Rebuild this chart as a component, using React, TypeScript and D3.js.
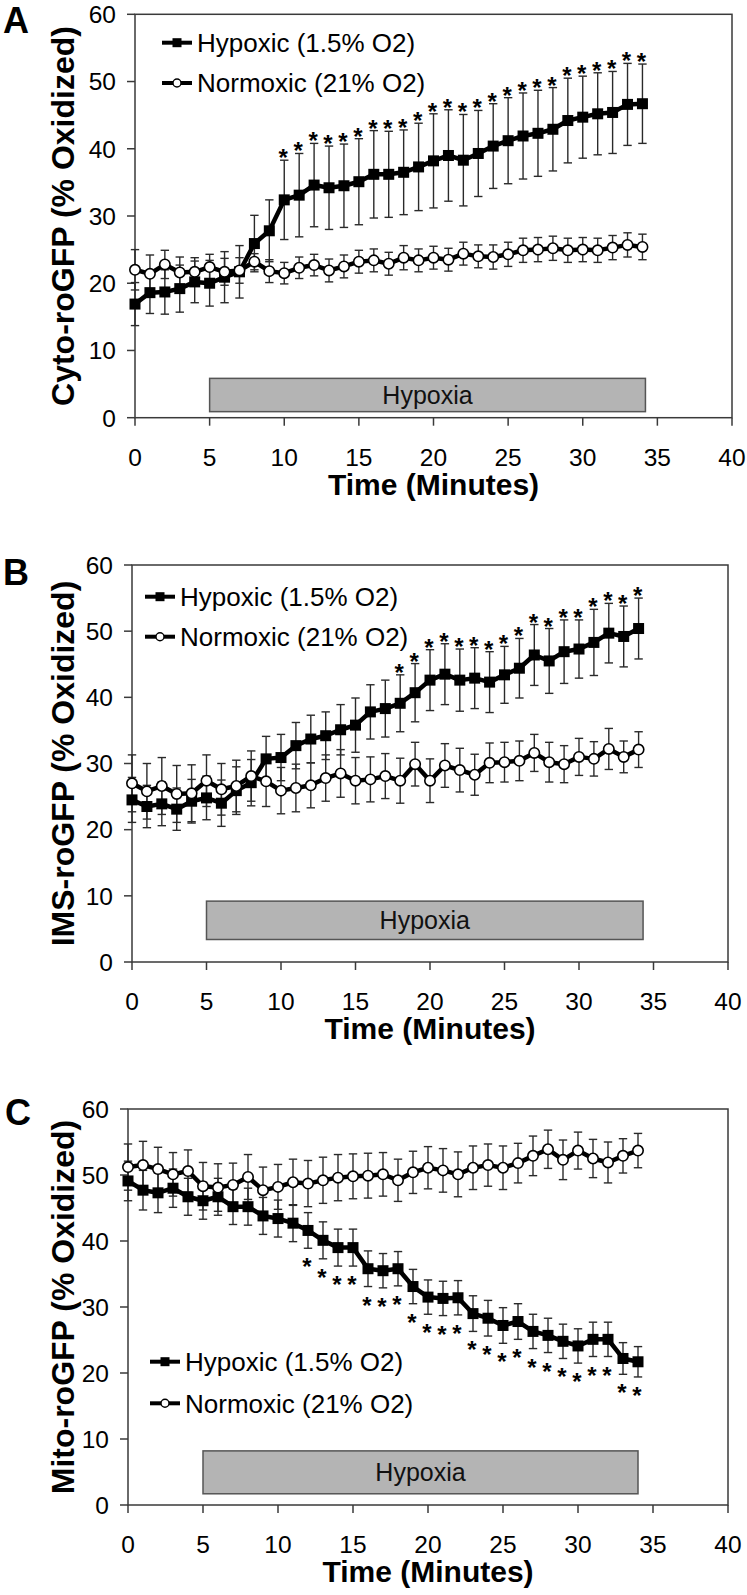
import React from 'react';
import * as d3 from 'd3';

const minutes = [0,1,2,3,4,5,6,7,8,9,10,11,12,13,14,15,16,17,18,19,20,21,22,23,24,25,26,27,28,29,30,31,32,33,34];
const xTicks = [0,5,10,15,20,25,30,35,40];
const yTicks = [0,10,20,30,40,50,60];

// Panel A: Cyto-roGFP
const cytoHypoxicMean = [16.9,18.6,18.7,19.2,20.2,20.0,20.9,21.7,25.9,27.8,32.4,33.1,34.6,34.2,34.5,35.1,36.2,36.2,36.5,37.3,38.2,39.0,38.3,39.3,40.4,41.2,41.9,42.3,42.9,44.2,44.7,45.2,45.4,46.6,46.7];
const cytoHypoxicSE = [3.2,3.1,3.3,3.5,3.1,3.4,3.8,3.9,4.2,4.6,5.9,6.2,6.2,6.2,6.2,6.4,6.5,6.4,6.3,6.5,7.0,6.8,6.8,6.4,6.3,6.4,6.4,6.4,6.2,6.3,6.1,6.1,6.1,6.1,5.9];
const cytoNormoxicMean = [22.0,21.4,22.8,21.6,21.7,22.4,21.7,21.9,23.2,21.8,21.5,22.3,22.7,21.9,22.5,23.2,23.4,22.9,23.8,23.4,23.8,23.5,24.4,24.0,23.9,24.3,24.9,25.0,25.2,24.9,25.0,24.9,25.3,25.7,25.4];
const cytoNormoxicSE = [3.0,2.8,2.1,2.3,2.1,1.9,2.0,1.9,1.2,1.7,1.6,1.6,1.6,1.7,1.7,1.7,1.7,1.7,1.8,1.7,1.7,1.7,1.7,1.7,1.8,1.8,1.8,1.8,1.8,1.8,1.8,1.8,1.8,1.8,1.9];
const cytoStars = [10,11,12,13,14,15,16,17,18,19,20,21,22,23,24,25,26,27,28,29,30,31,32,33,34];

// Panel B: IMS-roGFP
const imsHypoxicMean = [24.5,23.5,23.9,23.1,24.3,24.8,24.0,25.9,27.1,30.7,30.9,32.7,33.7,34.2,35.1,35.8,37.8,38.3,39.1,40.7,42.6,43.5,42.6,42.9,42.3,43.4,44.4,46.4,45.5,46.9,47.3,48.3,49.7,49.2,50.4];
const imsHypoxicSE = [3.4,3.2,3.3,3.2,3.3,3.3,3.5,3.6,3.5,3.4,3.5,3.5,3.6,3.6,3.8,4.1,4.1,4.3,4.3,4.4,4.6,4.6,4.7,4.6,4.6,4.3,4.5,4.6,4.9,4.8,4.4,5.0,4.5,4.6,4.6];
const imsNormoxicMean = [27.0,25.8,26.6,25.4,25.5,27.4,26.1,26.6,28.1,27.3,25.9,26.3,26.7,27.8,28.5,27.4,27.6,28.1,27.4,29.9,27.4,29.7,29.0,28.3,30.1,30.2,30.4,31.6,30.2,29.9,31.0,30.7,32.2,31.0,32.1];
const imsNormoxicSE = [4.3,4.2,4.3,4.3,4.3,3.9,3.9,3.9,3.8,3.8,3.5,3.6,3.4,3.5,3.6,3.5,3.4,3.4,3.4,3.3,3.3,3.3,3.3,3.1,3.0,3.0,3.0,2.8,3.0,2.8,2.8,2.6,3.1,2.4,2.7];
const imsStars = [18,19,20,21,22,23,24,25,26,27,28,29,30,31,32,33,34];

// Panel C: Mito-roGFP
const mitoHypoxicMean = [49.1,47.7,47.3,48.0,46.7,46.1,46.7,45.2,45.2,43.8,43.4,42.7,41.6,40.1,39.0,39.0,35.8,35.5,35.8,33.1,31.5,31.3,31.4,29.0,28.3,27.2,27.8,26.3,25.7,24.8,24.1,25.1,25.1,22.2,21.7];
const mitoHypoxicSE = [3.0,3.0,3.0,2.9,2.8,2.8,2.8,2.7,2.8,2.8,2.8,2.8,2.7,2.8,2.8,2.8,2.7,2.6,2.6,2.6,2.6,2.6,2.6,2.7,2.7,2.7,2.7,2.6,2.6,2.6,2.6,2.6,2.6,2.4,2.3];
const mitoNormoxicMean = [51.2,51.5,50.9,50.1,50.6,48.3,48.1,48.5,49.7,47.7,48.2,48.9,48.7,49.2,49.6,49.8,49.9,50.1,49.2,50.4,51.1,50.7,50.1,51.1,51.5,51.1,51.8,52.9,53.9,52.3,53.7,52.5,51.9,52.9,53.7];
const mitoNormoxicSE = [3.5,3.6,3.3,3.3,3.2,3.6,3.6,3.3,3.4,3.5,3.4,3.5,3.5,3.5,3.5,3.4,3.4,3.3,3.2,3.2,3.2,3.3,3.4,3.3,3.2,3.3,3.0,3.0,2.9,3.0,2.8,2.9,3.1,2.6,2.6];
const mitoStars = [12,13,14,15,16,17,18,19,20,21,22,23,24,25,26,27,28,29,30,31,32,33,34];

const seriesNames = ['Hypoxic (1.5% O2)', 'Normoxic (21% O2)'];
const panelLetters = ['A', 'B', 'C'];
const yTitles = ['Cyto-roGFP (% Oxidized)', 'IMS-roGFP (% Oxidized)', 'Mito-roGFP (% Oxidized)'];
const xTitle = 'Time (Minutes)';
const hypoxiaLabel = 'Hypoxia';
// hypoxia bar extents [xStart, xEnd, yLow, yHigh] in data units
const hypoxiaBars = [[5, 34.2, 0.9, 5.85], [5, 34.3, 3.4, 9.2], [5, 34.0, 1.7, 8.2]];

const FONT = "Arial, 'Liberation Sans', Helvetica, sans-serif";
const AXIS = '#3a3a3a';

type PanelCfg = {
  letter: string; yTitle: string;
  hypMean: number[]; hypSE: number[]; norMean: number[]; norSE: number[];
  stars: number[]; starsBelow: boolean; bar: number[];
  left: number; right: number; top: number; bottom: number;
  letterX: number; letterY: number;
  legX1: number; legRow1: number; legRow2: number;
};

function Panel({ c }: { c: PanelCfg }) {
  const x = d3.scaleLinear().domain([0, 40]).range([c.left, c.right]);
  const y = d3.scaleLinear().domain([0, 60]).range([c.bottom, c.top]);
  const line = d3.line<number>().x((_, i) => x(minutes[i])).y(d => y(d));
  const capW = 4.2;

  const errBars = (mean: number[], se: number[], key: string) =>
    mean.map((m, i) => {
      const cx = x(minutes[i]);
      const y1 = y(m + se[i]);
      const y2 = y(m - se[i]);
      return (
        <g key={key + i} stroke="#2a2a2a" strokeWidth={1.4}>
          <line x1={cx} x2={cx} y1={y1} y2={y2} />
          <line x1={cx - capW} x2={cx + capW} y1={y1} y2={y1} />
          <line x1={cx - capW} x2={cx + capW} y1={y2} y2={y2} />
        </g>
      );
    });

  const [bx0, bx1, by0, by1] = c.bar;
  const legX2 = c.legX1 + 30;
  const legMid = c.legX1 + 15;

  return (
    <g fontFamily={FONT}>
      <text x={c.letterX} y={c.letterY} fontSize={36} fontWeight="bold">{c.letter}</text>
      <rect x={c.left} y={c.top} width={c.right - c.left} height={c.bottom - c.top} fill="none" stroke={AXIS} strokeWidth={1.5} />
      {yTicks.map(t => (
        <g key={'yt' + t}>
          <line x1={c.left - 8} x2={c.left} y1={y(t)} y2={y(t)} stroke={AXIS} strokeWidth={1.5} />
          <text x={c.left - 19} y={y(t)} dy="0.36em" textAnchor="end" fontSize={24.5}>{t}</text>
        </g>
      ))}
      {xTicks.map(t => (
        <g key={'xt' + t}>
          <line x1={x(t)} x2={x(t)} y1={c.bottom} y2={c.bottom + 8} stroke={AXIS} strokeWidth={1.5} />
          <text x={x(t)} y={c.bottom + 48} textAnchor="middle" fontSize={24.5}>{t}</text>
        </g>
      ))}
      <text x={(c.left + c.right) / 2} y={c.bottom + 77} textAnchor="middle" fontSize={30} fontWeight="bold">{xTitle}</text>
      <text transform={`translate(74,${(c.top + c.bottom) / 2}) rotate(-90)`} textAnchor="middle" fontSize={32} fontWeight="bold">{c.yTitle}</text>
      <rect x={x(bx0)} y={y(by1)} width={x(bx1) - x(bx0)} height={y(by0) - y(by1)} fill="#b4b4b4" stroke="#555" strokeWidth={1.5} />
      <text x={(x(bx0) + x(bx1)) / 2} y={(y(by0) + y(by1)) / 2} dy="0.36em" textAnchor="middle" fontSize={25} fill="#111">{hypoxiaLabel}</text>
      {errBars(c.hypMean, c.hypSE, 'he')}
      {errBars(c.norMean, c.norSE, 'ne')}
      <path d={line(c.hypMean) || ''} fill="none" stroke="#000" strokeWidth={4.5} strokeLinejoin="round" />
      <path d={line(c.norMean) || ''} fill="none" stroke="#000" strokeWidth={4.5} strokeLinejoin="round" />
      {c.hypMean.map((m, i) => (
        <rect key={'hm' + i} x={x(minutes[i]) - 5.5} y={y(m) - 5.5} width={11} height={11} fill="#000" />
      ))}
      {c.norMean.map((m, i) => (
        <circle key={'nm' + i} cx={x(minutes[i])} cy={y(m)} r={5.2} fill="#fff" stroke="#000" strokeWidth={1.6} />
      ))}
      {c.stars.map(t => {
        const i = minutes.indexOf(t);
        const sx = x(t) - 1;
        const sy = c.starsBelow ? y(c.hypMean[i] - c.hypSE[i]) + 27 : y(c.hypMean[i] + c.hypSE[i]) + 6;
        return <text key={'st' + t} x={sx} y={sy} textAnchor="middle" fontSize={24} fontWeight="bold">*</text>;
      })}
      <line x1={c.legX1} x2={legX2} y1={c.legRow1} y2={c.legRow1} stroke="#000" strokeWidth={4} />
      <rect x={legMid - 4.5} y={c.legRow1 - 4.5} width={9} height={9} fill="#000" />
      <text x={legX2 + 5} y={c.legRow1} dy="0.36em" fontSize={26}>{seriesNames[0]}</text>
      <line x1={c.legX1} x2={legX2} y1={c.legRow2} y2={c.legRow2} stroke="#000" strokeWidth={4} />
      <circle cx={legMid} cy={c.legRow2} r={4} fill="#fff" stroke="#000" strokeWidth={1.4} />
      <text x={legX2 + 5} y={c.legRow2} dy="0.36em" fontSize={26}>{seriesNames[1]}</text>
    </g>
  );
}

export default function App() {
  const panels: PanelCfg[] = [
    {
      letter: panelLetters[0], yTitle: yTitles[0],
      hypMean: cytoHypoxicMean, hypSE: cytoHypoxicSE, norMean: cytoNormoxicMean, norSE: cytoNormoxicSE,
      stars: cytoStars, starsBelow: false, bar: hypoxiaBars[0],
      left: 135, right: 732, top: 14.3, bottom: 417.7,
      letterX: 3, letterY: 33, legX1: 162, legRow1: 42.7, legRow2: 83,
    },
    {
      letter: panelLetters[1], yTitle: yTitles[1],
      hypMean: imsHypoxicMean, hypSE: imsHypoxicSE, norMean: imsNormoxicMean, norSE: imsNormoxicSE,
      stars: imsStars, starsBelow: false, bar: hypoxiaBars[1],
      left: 132, right: 728, top: 565, bottom: 962,
      letterX: 3, letterY: 585, legX1: 145, legRow1: 596.7, legRow2: 636.7,
    },
    {
      letter: panelLetters[2], yTitle: yTitles[2],
      hypMean: mitoHypoxicMean, hypSE: mitoHypoxicSE, norMean: mitoNormoxicMean, norSE: mitoNormoxicSE,
      stars: mitoStars, starsBelow: true, bar: hypoxiaBars[2],
      left: 128, right: 728, top: 1109, bottom: 1505,
      letterX: 5, letterY: 1125, legX1: 150, legRow1: 1361.7, legRow2: 1403.3,
    },
  ];
  return (
    <svg width={747} height={1595} style={{ position: 'absolute', left: 0, top: 0, background: '#fff' }}>
      <rect width={747} height={1595} fill="#fff" />
      {panels.map((p, i) => <Panel key={i} c={p} />)}
    </svg>
  );
}
